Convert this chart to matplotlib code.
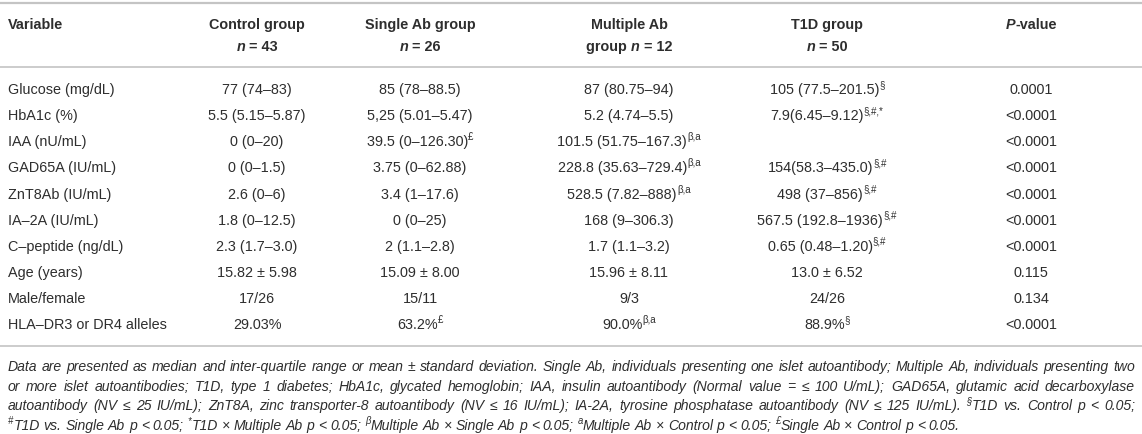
import re
import matplotlib
matplotlib.use("Agg")
import matplotlib.pyplot as plt
from matplotlib.lines import Line2D

# ---------------- data ----------------
variables = ["Glucose (mg/dL)", "HbA1c (%)", "IAA (nU/mL)", "GAD65A (IU/mL)",
             "ZnT8Ab (IU/mL)", "IA\u20132A (IU/mL)", "C\u2013peptide (ng/dL)",
             "Age (years)", "Male/female", "HLA\u2013DR3 or DR4 alleles"]
control = ["77 (74\u201383)", "5.5 (5.15\u20135.87)", "0 (0\u201320)", "0 (0\u20131.5)",
           "2.6 (0\u20136)", "1.8 (0\u201312.5)", "2.3 (1.7\u20133.0)",
           "15.82 \u00b1 5.98", "17/26", "29.03%"]
control_sup = ["", "", "", "", "", "", "", "", "", ""]
single = ["85 (78\u201388.5)", "5,25 (5.01\u20135.47)", "39.5 (0\u2013126.30)",
          "3.75 (0\u201362.88)", "3.4 (1\u201317.6)", "0 (0\u201325)", "2 (1.1\u20132.8)",
          "15.09 \u00b1 8.00", "15/11", "63.2%"]
single_sup = ["", "", "\u00a3", "", "", "", "", "", "", "\u00a3"]
multiple = ["87 (80.75\u201394)", "5.2 (4.74\u20135.5)", "101.5 (51.75\u2013167.3)",
            "228.8 (35.63\u2013729.4)", "528.5 (7.82\u2013888)", "168 (9\u2013306.3)",
            "1.7 (1.1\u20133.2)", "15.96 \u00b1 8.11", "9/3", "90.0%"]
multiple_sup = ["", "", "\u03b2,a", "\u03b2,a", "\u03b2,a", "", "", "", "", "\u03b2,a"]
t1d = ["105 (77.5\u2013201.5)", "7.9(6.45\u20139.12)", "", "154(58.3\u2013435.0)",
       "498 (37\u2013856)", "567.5 (192.8\u20131936)", "0.65 (0.48\u20131.20)",
       "13.0 \u00b1 6.52", "24/26", "88.9%"]
t1d_sup = ["\u00a7", "\u00a7,#,*", "", "\u00a7,#", "\u00a7,#", "\u00a7,#", "\u00a7,#", "", "", "\u00a7"]
pvalues = ["0.0001", "<0.0001", "<0.0001", "<0.0001", "<0.0001", "<0.0001",
           "<0.0001", "0.115", "0.134", "<0.0001"]

header_line1 = ["Variable", "Control group", "Single Ab group", "Multiple Ab", "T1D group", "P-value"]
header_n = ["43", "26", "12", "50"]

footnotes = [
    "Data are presented as median and inter-quartile range or mean \u00b1 standard deviation. Single Ab, individuals presenting one islet autoantibody; Multiple Ab, individuals presenting two",
    "or more islet autoantibodies; T1D, type 1 diabetes; HbA1c, glycated hemoglobin; IAA, insulin autoantibody (Normal value = \u2264 100 U/mL); GAD65A, glutamic acid decarboxylase",
    "autoantibody (NV \u2264 25 IU/mL); ZnT8A, zinc transporter-8 autoantibody (NV \u2264 16 IU/mL); IA-2A, tyrosine phosphatase autoantibody (NV \u2264 125 IU/mL). {\u00a7}T1D vs. Control p < 0.05;",
    "{#}T1D vs. Single Ab p < 0.05; {*}T1D \u00d7 Multiple Ab p < 0.05; {\u03b2}Multiple Ab \u00d7 Single Ab p < 0.05; {a}Multiple Ab \u00d7 Control p < 0.05; {\u00a3}Single Ab \u00d7 Control p < 0.05.",
]

# ---------------- layout ----------------
W, H = 1142, 434
fig = plt.figure(figsize=(W / 100, H / 100), dpi=100)
fig.patch.set_facecolor("white")
renderer = fig.canvas.get_renderer()

FONT = ["Liberation Sans", "DejaVu Sans"]
COLOR = "#2e2e2e"
RULE = "#c4c4c4"
FS = 10.4          # table font size (pt)
FN = 10.1          # footnote font size (pt)
SUPF = 0.68        # superscript scale
PX = 100 / 72.0    # px per pt

col_x = [8, 257, 420, 629, 827, 1031]
hdr_y = [24, 46]
row_y0, row_dy = 89, 26.1
fn_y0, fn_dy = 366, 19.7
fn_right = 1135


def _w(s, size, style="normal", weight="normal"):
    t = fig.text(0, 0, "|" + s + "|", fontsize=size, fontstyle=style,
                 fontweight=weight, family=FONT)
    w1 = t.get_window_extent(renderer).width
    t.set_text("||")
    w0 = t.get_window_extent(renderer).width
    t.remove()
    return w1 - w0


def put(x, ybase, s, size, style="normal", weight="normal"):
    fig.text(x / W, 1 - ybase / H, s, fontsize=size, fontstyle=style,
             fontweight=weight, family=FONT, color=COLOR, ha="left", va="baseline")


def seg_width(segs, size):
    tot = 0
    for s, st, wt, sup in segs:
        tot += _w(s, size * SUPF if sup else size, st, wt)
    return tot


def draw_segs(x, ycenter, segs, size):
    base = ycenter + 0.716 * size * PX / 2
    for s, st, wt, sup in segs:
        sz = size * SUPF if sup else size
        yb = base - 0.42 * size * PX if sup else base
        put(x, yb, s, sz, st, wt)
        x += _w(s, sz, st, wt)
    return x


def draw_cell(cx, ycenter, segs, size, align="center"):
    w = seg_width(segs, size)
    x = cx - w / 2 if align == "center" else cx
    draw_segs(x, ycenter, segs, size)


def hline(y, lw):
    fig.add_artist(Line2D([0, 1], [1 - y / H, 1 - y / H], transform=fig.transFigure,
                          color=RULE, linewidth=lw))


# rules
hline(3, 1.6)
hline(67, 1.2)
hline(346, 1.2)

# header
B = "bold"
draw_cell(col_x[0], hdr_y[0], [(header_line1[0], "normal", B, False)], FS, align="left")
for i in range(1, 6):
    txt = header_line1[i]
    if txt.startswith("P-"):
        segs = [("P", "italic", B, False), (txt[1:], "normal", B, False)]
    else:
        segs = [(txt, "normal", B, False)]
    draw_cell(col_x[i], hdr_y[0], segs, FS)
for i, n in enumerate(header_n):
    segs = [("n", "italic", B, False), (" = " + n, "normal", B, False)]
    if i == 2:
        segs = [("group ", "normal", B, False)] + segs
    draw_cell(col_x[i + 1], hdr_y[1], segs, FS)

# body
cols = [(control, control_sup), (single, single_sup), (multiple, multiple_sup),
        (t1d, t1d_sup), (pvalues, [""] * len(pvalues))]
for r, var in enumerate(variables):
    y = row_y0 + r * row_dy
    draw_cell(col_x[0], y, [(var, "normal", "normal", False)], FS, align="left")
    for c, (vals, sups) in enumerate(cols):
        segs = []
        if vals[r]:
            segs.append((vals[r], "normal", "normal", False))
        if sups[r]:
            segs.append((sups[r], "normal", "normal", True))
        if segs:
            draw_cell(col_x[c + 1], y, segs, FS)

# footnotes (italic, justified except last line)
space_w = _w(" ", FN, "italic")
for li, line in enumerate(footnotes):
    words = []
    for word in line.split(" "):
        parts = re.split(r"(\{[^}]*\})", word)
        segs = []
        for p in parts:
            if not p:
                continue
            if p.startswith("{"):
                segs.append((p[1:-1], "italic", "normal", True))
            else:
                segs.append((p, "italic", "normal", False))
        words.append(segs)
    widths = [seg_width(s, FN) for s in words]
    if li < len(footnotes) - 1:
        gap = (fn_right - col_x[0] - sum(widths)) / (len(words) - 1)
    else:
        gap = space_w
    x = col_x[0]
    y = fn_y0 + li * fn_dy
    for segs, w in zip(words, widths):
        draw_segs(x, y, segs, FN)
        x += w + gap

fig.savefig("out.png", dpi=100, facecolor="white")
